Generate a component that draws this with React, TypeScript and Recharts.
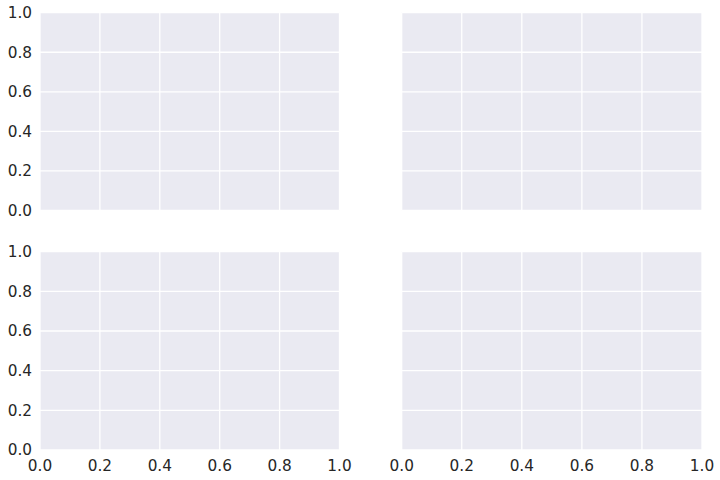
import React from "react";
import { ScatterChart, Scatter, XAxis, YAxis, CartesianGrid } from "recharts";

const xTicks = [0, 0.2, 0.4, 0.6, 0.8, 1.0];
const yTicks = [0, 0.2, 0.4, 0.6, 0.8, 1.0];
const emptySeries: { x: number; y: number }[] = [];

const BG = "#EAEAF2";
const TEXT = "#262626";
const FONT = "'DejaVu Sans', sans-serif";

type PanelProps = {
  showX: boolean;
  showY: boolean;
  margin: { top: number; right: number; bottom: number; left: number };
};

const fmt = (v: number) => v.toFixed(1);

function Panel({ showX, showY, margin }: PanelProps) {
  return (
    <ScatterChart width={360} height={240} margin={margin}>
      <CartesianGrid fill={BG} stroke="#FFFFFF" strokeWidth={1.3} />
      <XAxis
        type="number"
        dataKey="x"
        domain={[0, 1]}
        allowDataOverflow={true}
        ticks={xTicks}
        tickFormatter={fmt}
        hide={!showX}
        height={30}
        axisLine={false}
        tickLine={false}
        tickMargin={4}
        tick={{ fill: TEXT, fontSize: 15.3, fontFamily: FONT }}
      />
      <YAxis
        type="number"
        dataKey="y"
        domain={[0, 1]}
        allowDataOverflow={true}
        ticks={yTicks}
        tickFormatter={fmt}
        hide={!showY}
        width={40}
        axisLine={false}
        tickLine={false}
        tick={{ fill: TEXT, fontSize: 15.3, fontFamily: FONT }}
      />
      <Scatter data={emptySeries} isAnimationActive={false} />
    </ScatterChart>
  );
}

export default function App() {
  return (
    <div style={{ position: "absolute", left: 0, top: 0, width: 720, height: 480, background: "#FFFFFF" }}>
      <style>{`body{margin:0}`}</style>
      <div style={{ position: "absolute", left: 0, top: 0 }}>
        <Panel showX={false} showY={true} margin={{ top: 12.7, right: 20.5, bottom: 29.5, left: 0 }} />
      </div>
      <div style={{ position: "absolute", left: 360, top: 0 }}>
        <Panel showX={false} showY={false} margin={{ top: 12.7, right: 18, bottom: 29.5, left: 41.7 }} />
      </div>
      <div style={{ position: "absolute", left: 0, top: 240 }}>
        <Panel showX={true} showY={true} margin={{ top: 11.7, right: 20.5, bottom: 0, left: 0 }} />
      </div>
      <div style={{ position: "absolute", left: 360, top: 240 }}>
        <Panel showX={true} showY={false} margin={{ top: 11.7, right: 18, bottom: 0, left: 41.7 }} />
      </div>
    </div>
  );
}
